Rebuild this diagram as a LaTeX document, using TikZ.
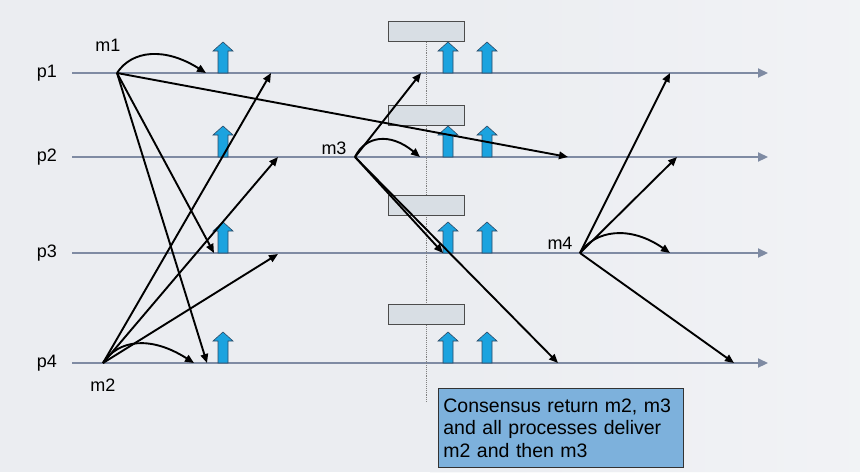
\documentclass[tikz,border=0pt]{standalone}
\usepackage{fontspec}
\setmainfont{Liberation Sans}
\usetikzlibrary{arrows.meta}
\definecolor{bgc}{HTML}{EBEDF1}
\definecolor{tlc}{HTML}{7F8BA3}
\definecolor{bluearr}{HTML}{1BA3DF}
\definecolor{bluearrd}{HTML}{2D4A66}
\definecolor{gboxc}{HTML}{D8DEE4}
\definecolor{notec}{HTML}{7DB1DC}
\tikzset{
  tl/.style={draw=tlc, line width=2.2pt, -{Triangle[length=10pt,width=9pt]}},
  msg/.style={draw=black, line width=1.9pt, -{Triangle[length=9pt,width=7.5pt]}},
  gbox/.style={draw=black!70, fill=gboxc, line width=0.8pt, minimum width=76pt, minimum height=20pt, inner sep=0pt},
  lbl/.style={font=\fontsize{18}{20}\selectfont, inner sep=0pt},
  pics/uparr/.style={code={
    \fill[bluearr, draw=bluearrd, line width=0.6pt]
      (-5,0) -- (-5,-22) -- (-10,-22) -- (0,-31) -- (10,-22) -- (5,-22) -- (5,0) -- cycle;
  }},
}
\begin{document}
\begin{tikzpicture}[x=1pt,y=-1pt]
\useasboundingbox (0,0) rectangle (860,472);
\fill[bgc] (0,0) rectangle (860,472);
\shade[left color=bgc, right color=white, opacity=0.35] (430,0) rectangle (860,472);

% timelines
\foreach \n/\y in {1/73,2/157,3/253,4/363}{
  \coordinate (s\n) at (72,\y);
  \coordinate (e\n) at (768,\y);
  \draw[tl] (s\n) -- (e\n);
}
\node[lbl] (p1) at (47,73) {p1};
\node[lbl] (p2) at (47,157) {p2};
\node[lbl] (p3) at (47,253) {p3};
\node[lbl] (p4) at (47,363) {p4};

% dotted consensus line
\coordinate (dtop) at (426,42);
\coordinate (dbot) at (426,402);
\draw[gray, densely dotted, line width=0.9pt] (dtop) -- (dbot);

% gray boxes
\node[gbox] (g1) at (426,31) {};
\node[gbox] (g2) at (426,115) {};
\node[gbox] (g3) at (426,205) {};
\node[gbox] (g4) at (426,314) {};

% blue delivery arrows
\foreach \y in {73,157,253,363}{
  \pic at (223,\y) {uparr};
  \pic at (448,\y) {uparr};
  \pic at (487,\y) {uparr};
}

% message labels
\node[lbl] (m1) at (108,45) {m1};
\node[lbl] (m2) at (103,385) {m2};
\node[lbl] (m3) at (334,148) {m3};
\node[lbl] (m4) at (560,243) {m4};

% origins
\coordinate (o1) at (117,73);
\coordinate (o2) at (103,363);
\coordinate (o3) at (355,157);
\coordinate (o4) at (580,253);

% m1 targets
\coordinate (a11) at (206,73);
\coordinate (a12) at (568,157);
\coordinate (a13) at (214,253);
\coordinate (a14) at (207,363);
\draw[msg] (o1) .. controls (132,50) and (165,47) .. (a11);
\draw[msg] (o1) -- (a12);
\draw[msg] (o1) -- (a13);
\draw[msg] (o1) -- (a14);

% m2 targets
\coordinate (a21) at (271,73);
\coordinate (a22) at (278,157);
\coordinate (a23) at (278,254);
\coordinate (a24) at (194,363);
\draw[msg] (o2) .. controls (118,340) and (150,335) .. (a24);
\draw[msg] (o2) -- (a21);
\draw[msg] (o2) -- (a22);
\draw[msg] (o2) -- (a23);

% m3 targets
\coordinate (a31) at (421,73);
\coordinate (a32) at (420,157);
\coordinate (a33) at (443,253);
\coordinate (a34) at (558,363);
\draw[msg] (o3) .. controls (365,136) and (390,132) .. (a32);
\draw[msg] (o3) -- (a31);
\draw[msg] (o3) -- (a33);
\draw[msg] (o3) -- (a34);

% m4 targets
\coordinate (a41) at (670,73);
\coordinate (a42) at (677,157);
\coordinate (a43) at (670,253);
\coordinate (a44) at (734,363);
\draw[msg] (o4) .. controls (595,230) and (630,225) .. (a43);
\draw[msg] (o4) -- (a41);
\draw[msg] (o4) -- (a42);
\draw[msg] (o4) -- (a44);

% note
\node[draw=black!80, fill=notec, line width=0.8pt, anchor=north west,
      text width=235pt, inner xsep=5pt, inner ysep=0pt, minimum height=79pt,
      align=left, font=\fontsize{19.5}{22.5}\selectfont] (note) at (438,388)
  {Consensus return m2, m3\\and all processes deliver\\m2 and then m3};
\end{tikzpicture}
\end{document}
